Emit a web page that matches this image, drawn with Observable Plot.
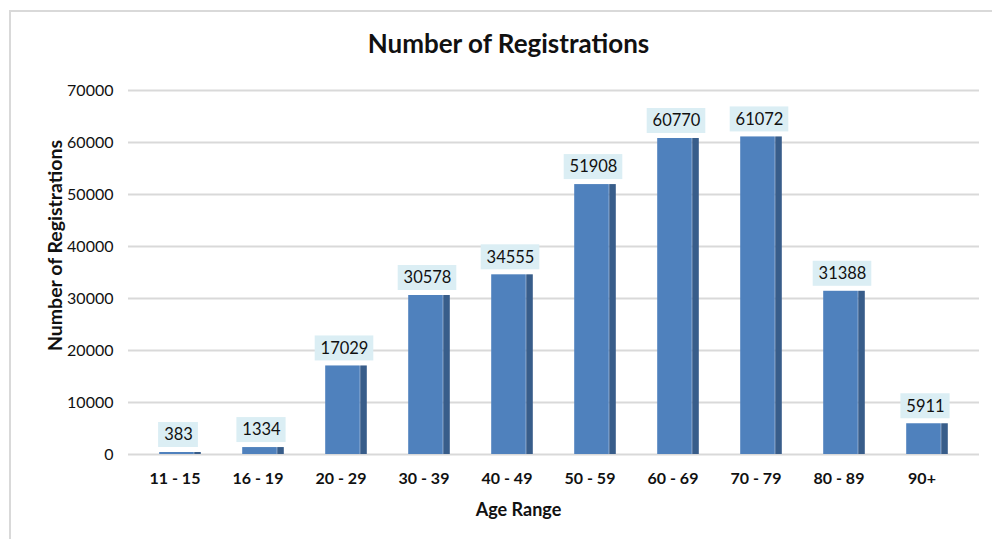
<!DOCTYPE html>
<html>
<head>
<meta charset="utf-8">
<script src="https://cdn.jsdelivr.net/npm/d3@7"></script>
<script src="https://cdn.jsdelivr.net/npm/@observablehq/plot@0.6"></script>
<style>
  html, body { margin: 0; padding: 0; background: #fff; }
  #wrap { position: relative; width: 992px; height: 539px; overflow: hidden; }
  #border { position: absolute; left: 9px; top: 10px; width: 1000px; height: 560px;
            border: 2px solid #d9d9d9; box-sizing: border-box; pointer-events: none; }
  svg { display: block; }
</style>
</head>
<body>
<div id="wrap"><div id="chart"></div><div id="border"></div></div>
<script>
const categories = ["11 - 15", "16 - 19", "20 - 29", "30 - 39", "40 - 49", "50 - 59", "60 - 69", "70 - 79", "80 - 89", "90+"];
const registrations = [383, 1334, 17029, 30578, 34555, 51908, 60770, 61072, 31388, 5911];
const yTicks = [0, 10000, 20000, 30000, 40000, 50000, 60000, 70000];
const titleText = "Number of Registrations";
const xLabel = "Age Range";
const yLabel = "Number of Registrations";

const data = categories.map((c, i) => ({ cat: c, value: registrations[i], label: String(registrations[i]) }));

const FONT = "Lato, 'Open Sans', sans-serif";
const bandW = (967 - 133) / categories.length;
const frontW = 35, sideW = 7;
const frontInset = (bandW - frontW) / 2;

const boxMarks = [3, 4, 5].map(n => {
  const w = 12 + 9.4 * n;
  const ins = (bandW - w) / 2;
  return Plot.rect(data.filter(d => d.label.length === n), {
    x: "cat", y1: "value", y2: "value",
    insetLeft: ins + 1.5, insetRight: ins - 1.5,
    insetTop: -30, insetBottom: 5,
    fill: "#dbeef4"
  });
});

const chart = Plot.plot({
  width: 992,
  height: 539,
  marginLeft: 133,
  marginRight: 25,
  marginTop: 90,
  marginBottom: 85,
  style: { fontFamily: FONT, background: "transparent" },
  x: { domain: categories, axis: null, padding: 0 },
  y: { domain: [0, 70000], axis: null },
  marks: [
    Plot.ruleY(yTicks, { stroke: "#d9d9d9", strokeWidth: 1.8, insetLeft: -5, insetRight: -12 }),
    Plot.barY(data, { x: "cat", y: "value", fill: "#4f81bd", insetLeft: frontInset, insetRight: frontInset }),
    Plot.barY(data, { x: "cat", y: "value", fill: "#385d8a", insetLeft: frontInset + frontW, insetRight: frontInset - sideW }),
    ...boxMarks,
    Plot.text(data, { x: "cat", y: "value", text: "label", dx: 1.5, dy: -17.5, lineAnchor: "middle", fontSize: 16.5, fill: "#111", fontFamily: FONT }),
    Plot.text(yTicks, { y: d => d, text: d => String(d), frameAnchor: "left", textAnchor: "end", lineAnchor: "middle", dx: -20, fontSize: 16, fill: "#111", fontFamily: FONT }),
    Plot.text(categories, { x: d => d, text: d => d, frameAnchor: "bottom", lineAnchor: "middle", dx: -2, dy: 24, fontSize: 16, fontWeight: "bold", fill: "#111", fontFamily: FONT }),
    Plot.text([xLabel], { frameAnchor: "bottom", textAnchor: "middle", lineAnchor: "middle", dx: -32, dy: 56, fontSize: 18, fontWeight: "bold", fill: "#111", fontFamily: FONT }),
    Plot.text([yLabel], { frameAnchor: "left", textAnchor: "middle", lineAnchor: "middle", rotate: -90, dx: -78, dy: -27, fontSize: 19.5, fontWeight: "bold", fill: "#111", fontFamily: FONT }),
    Plot.text([titleText], { frameAnchor: "top", textAnchor: "middle", lineAnchor: "middle", dx: -42, dy: -46, fontSize: 26, fontWeight: "bold", fill: "#111", fontFamily: FONT })
  ]
});
document.getElementById("chart").appendChild(chart);
</script>
</body>
</html>
